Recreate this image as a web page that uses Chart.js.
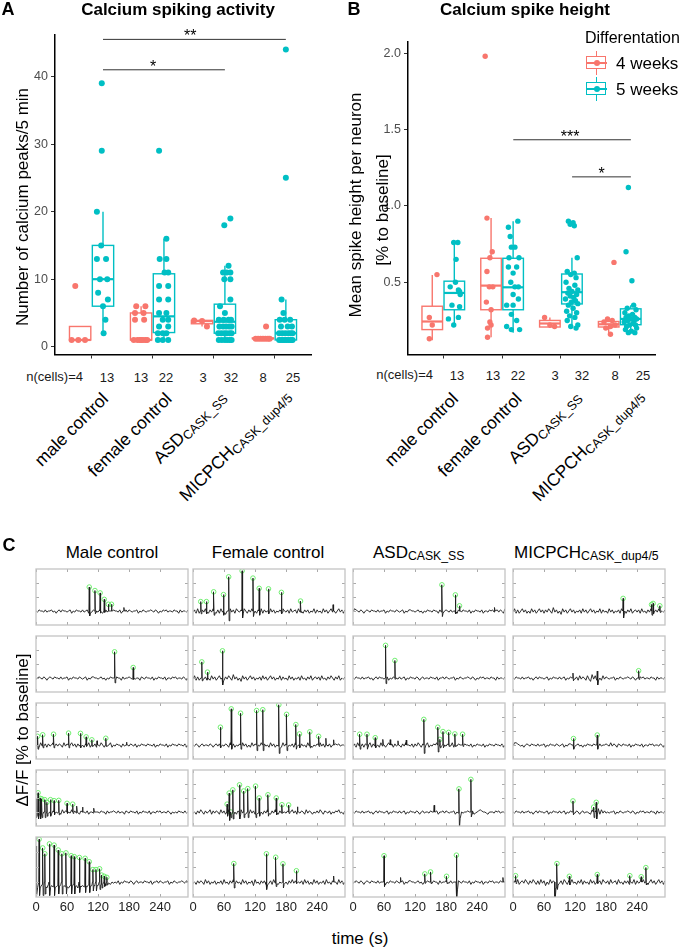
<!DOCTYPE html>
<html lang="en">
<head>
<meta charset="UTF-8">
<title>Calcium spiking</title>
<script src="https://cdn.jsdelivr.net/npm/chart.js"></script>
<style>
body { margin: 0; background: #fff; }
#fig { position: relative; width: 685px; height: 947px; overflow: hidden; font-family: 'Liberation Sans', Arial, sans-serif; color: #000; }
canvas { position: absolute; }
.t { position: absolute; white-space: nowrap; line-height: 1; }
.c { transform: translate(-50%, -50%); }
.rv { transform: translate(-50%, -50%) rotate(-90deg); }
.b { font-weight: bold; }
.n { font-size: 13px; color: #1a1a1a; }
.xl { position: absolute; white-space: nowrap; line-height: 1; font-size: 17.5px; transform-origin: 100% 0; transform: rotate(-45deg); }
.sb { font-size: 0.72em; vertical-align: -0.2em; }
.key { position: absolute; width: 21px; height: 24px; }
.key i { position: absolute; display: block; }
.key .wh { left: 10px; top: 0; width: 1.3px; height: 24px; background: currentColor; }
.key .bx { left: 0; top: 5px; width: 18px; height: 11px; border: 1.3px solid currentColor; background: #fff; }
.key .md { left: 0; top: 11px; width: 21px; height: 1.6px; background: currentColor; }
.key .dt { left: 7.5px; top: 9px; width: 6px; height: 6px; border-radius: 50%; background: currentColor; }
</style>
</head>
<body>
<div id="fig">
  <canvas id="chartA" style="left:0;top:0"></canvas>
  <canvas id="chartB" style="left:340px;top:0"></canvas>

  <!-- panel A text -->
  <div class="t c b" style="left:8px;top:9px;font-size:18px">A</div>
  <div class="t c b" style="left:178px;top:9px;font-size:17px">Calcium spiking activity</div>
  <div class="t rv" style="left:22px;top:207px;font-size:17px">Number of calcium peaks/5 min</div>
  <div class="t n" style="right:602px;top:370px">n(cells)=4</div>
  <div class="t n c" style="left:107px;top:377px">13</div>
  <div class="t n c" style="left:141px;top:377px">13</div>
  <div class="t n c" style="left:166px;top:377px">22</div>
  <div class="t n c" style="left:203px;top:377px">3</div>
  <div class="t n c" style="left:231px;top:377px">32</div>
  <div class="t n c" style="left:263px;top:377px">8</div>
  <div class="t n c" style="left:293px;top:377px">25</div>
  <div class="xl" style="right:586px;top:390px">male control</div>
  <div class="xl" style="right:522px;top:390px">female control</div>
  <div class="xl" style="right:468px;top:388px">ASD<span class="sb">CASK_SS</span></div>
  <div class="xl" style="right:403px;top:387px">MICPCH<span class="sb">CASK_dup4/5</span></div>

  <!-- panel B text -->
  <div class="t c b" style="left:354px;top:9px;font-size:18px">B</div>
  <div class="t c b" style="left:525px;top:9px;font-size:17px">Calcium spike height</div>
  <div class="t rv" style="left:355px;top:205px;font-size:17px">Mean spike height per neuron</div>
  <div class="t rv" style="left:382px;top:210px;font-size:17px">[% to baseline]</div>
  <div class="t" style="left:585px;top:30px;font-size:16px">Differentation</div>
  <div class="key" style="left:586px;top:51px;color:#F8766D"><i class="wh"></i><i class="bx"></i><i class="md"></i><i class="dt"></i></div>
  <div class="t" style="left:616px;top:55px;font-size:17px">4 weeks</div>
  <div class="key" style="left:586px;top:77px;color:#00BFC4"><i class="wh"></i><i class="bx"></i><i class="md"></i><i class="dt"></i></div>
  <div class="t" style="left:616px;top:81px;font-size:17px">5 weeks</div>
  <div class="t n" style="right:252px;top:368px">n(cells)=4</div>
  <div class="t n c" style="left:457px;top:375px">13</div>
  <div class="t n c" style="left:493px;top:375px">13</div>
  <div class="t n c" style="left:518px;top:375px">22</div>
  <div class="t n c" style="left:555px;top:375px">3</div>
  <div class="t n c" style="left:582px;top:375px">32</div>
  <div class="t n c" style="left:615px;top:375px">8</div>
  <div class="t n c" style="left:643px;top:375px">25</div>
  <div class="xl" style="right:236px;top:390px">male control</div>
  <div class="xl" style="right:172px;top:390px">female control</div>
  <div class="xl" style="right:113px;top:388px">ASD<span class="sb">CASK_SS</span></div>
  <div class="xl" style="right:50px;top:387px">MICPCH<span class="sb">CASK_dup4/5</span></div>

  <!-- panel C text -->
  <div class="t c b" style="left:9px;top:545px;font-size:18px">C</div>
  <div class="t c" style="left:112px;top:552px;font-size:17px">Male control</div>
  <div class="t c" style="left:268px;top:552px;font-size:17px">Female control</div>
  <div class="t" style="left:373px;top:544px;font-size:17px">ASD<span class="sb">CASK_SS</span></div>
  <div class="t" style="left:514px;top:544px;font-size:17px">MICPCH<span class="sb">CASK_dup4/5</span></div>
  <div class="t rv" style="left:22px;top:730px;font-size:17px">ΔF/F [% to baseline]</div>
  <div class="t c" style="left:360px;top:938px;font-size:17px">time (s)</div>
</div>

<script>
// ---- panel A: calcium peaks per 5 min (4 weeks / 5 weeks) ----
const peaks4 = [
  [9, 1, 1, 1],
  [6, 6, 5, 5, 4, 4, 1, 1, 1, 1, 1, 1, 1],
  [3.9, 3.8, 3.0],
  [3, 1.2, 1.2, 1.2, 1.2, 1.2, 1.2, 1.2]
];
const peaksJit4 = [
  [-0.08, -0.14, -0.03, 0.08],
  [-0.08, 0.07, -0.1, 0.04, -0.1, 0.05, -0.12, -0.06, -0.02, 0.03, 0.07, 0.1, 0.0],
  [-0.13, 0.0, 0.08],
  [0.05, -0.12, -0.08, -0.04, 0.0, 0.04, 0.08, 0.11]
];
const peaks5 = [
  [39, 29, 20, 15, 13, 13, 10, 10, 8, 7, 6, 4, 2],
  [29, 16, 13, 13, 11, 11, 9, 9, 7, 7, 5, 5, 4, 4, 3, 3, 2, 2, 2, 1, 1, 1],
  [19, 18, 12, 11, 11, 11, 10, 10, 7, 6, 5, 4, 4, 4, 4, 3, 3, 3, 3, 3, 2, 2, 2, 2, 2, 2, 1, 1, 1, 1, 1, 1],
  [44, 25, 7, 5, 4, 4, 4, 3, 3, 3, 2, 2, 2, 2, 2, 2, 1, 1, 1, 1, 1, 1, 1, 1, 1]
];
const peaksJit5 = [
  [-0.02, -0.02, -0.1, -0.03, 0.05, -0.1, 0.07, -0.05, -0.08, 0.08, 0, 0.04, 0.01],
  [-0.08, 0.04, -0.07, 0.04, 0.07, 0.01, -0.08, 0.07, -0.08, 0.07, -0.08, 0.04, -0.02, 0.07, -0.08, 0.07, -0.02, -0.1, 0.04, -0.1, -0.02, 0.07],
  [0.09, -0.01, 0.06, -0.03, 0.09, 0.03, -0.01, 0.09, 0.09, -0.08, 0, -0.1, -0.02, 0.06, 0.1, -0.09, -0.03, 0.02, 0.07, 0.11, -0.11, -0.06, -0.01, 0.03, 0.08, 0.11, -0.1, -0.05, 0, 0.04, 0.08, 0.11],
  [0, 0, -0.07, -0.04, -0.1, 0.07, -0.02, -0.08, 0.03, 0.1, -0.11, -0.06, -0.01, 0.04, 0.08, 0.11, -0.11, -0.08, -0.05, -0.02, 0.01, 0.04, 0.07, 0.09, 0.11]
];
// [lower whisker, q1, median, q3, upper whisker]
const peaksBox4 = [[1, 1, 1, 3, 3], [1, 1, 1, 5, 6], [3, 3.4, 3.8, 3.9, 3.9], [1.2, 1.2, 1.2, 1.3, 1.3]];
const peaksBox5 = [[2, 6, 10, 15, 20], [1, 2.1, 4.5, 10.8, 16], [1, 2, 3.7, 6.3, 12], [1, 1, 2, 4, 7]];
// [from, to, height, label x, label]
const peaksSig = [[1.1875, 3.1875, 41.0, 2.01, '*'], [1.1875, 4.1875, 45.5, 2.62, '**']];
const peaksTicks = [0, 10, 20, 30, 40];

// ---- panel B: mean spike height ----
const height4 = [
  [0.55, 0.27, 0.22, 0.13],
  [1.98, 0.92, 0.7, 0.66, 0.57, 0.47, 0.47, 0.37, 0.32, 0.24, 0.22, 0.2, 0.14],
  [0.27, 0.22, 0.21],
  [0.63, 0.26, 0.25, 0.24, 0.22, 0.21, 0.2, 0.16]
];
const heightJit4 = [
  [0.08, -0.05, 0, -0.05],
  [-0.1, -0.07, 0.02, -0.02, -0.07, -0.03, 0.03, -0.08, 0, -0.02, 0, -0.06, -0.06],
  [-0.09, 0, 0.08],
  [0.09, -0.02, 0.06, -0.08, 0.11, 0.03, -0.05, 0.03]
];
const height5 = [
  [0.76, 0.76, 0.65, 0.5, 0.47, 0.45, 0.44, 0.42, 0.35, 0.34, 0.27, 0.26, 0.22],
  [0.9, 0.86, 0.8, 0.73, 0.73, 0.66, 0.66, 0.6, 0.6, 0.56, 0.5, 0.47, 0.47, 0.42, 0.39, 0.35, 0.35, 0.29, 0.25, 0.21, 0.19, 0.19],
  [0.9, 0.89, 0.88, 0.87, 0.66, 0.57, 0.56, 0.55, 0.53, 0.5, 0.48, 0.46, 0.45, 0.44, 0.43, 0.42, 0.41, 0.4, 0.39, 0.38, 0.37, 0.36, 0.35, 0.33, 0.31, 0.3, 0.28, 0.27, 0.25, 0.22, 0.21, 0.2],
  [1.12, 0.7, 0.51, 0.35, 0.33, 0.32, 0.3, 0.29, 0.28, 0.27, 0.27, 0.26, 0.26, 0.25, 0.25, 0.24, 0.23, 0.22, 0.22, 0.21, 0.2, 0.19, 0.18, 0.17, 0.17]
];
const heightJit5 = [
  [-0.01, 0.06, 0.03, 0.02, -0.07, 0.07, 0.09, 0.1, -0.04, 0.09, 0.07, -0.1, -0.01],
  [0.08, -0.08, -0.05, -0.03, 0.03, -0.07, 0.1, 0.06, -0.08, 0, -0.04, 0.09, 0.03, 0, 0.09, -0.11, 0, -0.03, 0.06, -0.11, -0.03, 0.11],
  [-0.06, 0.02, -0.03, 0.04, 0.09, -0.08, 0.04, -0.02, 0.07, -0.1, 0.05, -0.05, 0.1, 0, -0.07, 0.08, -0.03, 0.03, -0.11, 0.06, -0.01, 0.1, -0.06, 0.02, -0.09, 0.08, -0.04, 0.05, -0.08, 0.1, -0.02, 0.07],
  [-0.04, -0.08, 0.02, 0.05, -0.06, 0.09, -0.1, 0.03, -0.03, 0.07, -0.08, 0.1, 0, -0.05, 0.06, -0.11, 0.04, -0.02, 0.08, -0.07, 0.1, -0.09, 0.01, -0.04, 0.07]
];
const heightBox4 = [[0.12, 0.19, 0.243, 0.343, 0.548], [0.14, 0.32, 0.478, 0.657, 0.92], [0.2, 0.207, 0.23, 0.25, 0.27], [0.16, 0.207, 0.225, 0.243, 0.26]];
const heightBox5 = [[0.22, 0.32, 0.43, 0.507, 0.76], [0.17, 0.32, 0.467, 0.657, 0.9], [0.2, 0.358, 0.435, 0.554, 0.66], [0.17, 0.222, 0.26, 0.326, 0.35]];
const heightSig = [[2.19, 4.19, 1.433, 3.155, '***'], [3.19, 4.19, 1.19, 3.694, '*']];
const heightTicks = [0.5, 1.0, 1.5, 2.0];

// ---- panel C: example traces, one noise string + spike list per row ----
// spike: [time s, peak dF/F, dip after, marked]
const timeTicks = [0, 60, 120, 180, 240];
const dffTicks = [0, 1, 2];
const maleNoise = [
  '5465546455 6453564655 4563546554 6456354655 4653564554 6554635564 6545563546 5455654653 5465645546 5536455465',
  '4565465356 5465546455 6354655465 4563546655 4564535465 5465536455 6546455365 4655463546 5546355465 6455465354',
  '4637456364 5736465374 6357463647 5364735463 6475364573 5465536455 4654635465 5465546354 6554635465 5465546355',
  '2324353545 4635463746 3547364536 4546355465 5465536455 6546455365 4655463546 5546355465 6455465354 5465546455',
  '3121312031 2131203121 3021312031 2131302131 2031323435 4546354655 4653564554 6554635564 6545563546 5455654653'
];
const maleSpikes = [
  [[103, 1.71, -0.35, 1], [114, 1.46, -0.2, 1], [124, 1.29, -0.15, 1], [132, 0.83, -0.1, 1], [140, 0.48, 0, 1], [146, 0.48, 0, 1], [170, 0.25, 0, 0]],
  [[152, 1.87, -0.35, 1], [188, 0.75, -0.1, 1]],
  [[3, 0.62, -0.3, 1], [13, 0.73, -0.2, 1], [34, 0.77, -0.2, 1], [63, 0.85, -0.2, 1], [86, 0.83, -0.2, 1], [97, 0.58, -0.1, 1], [108, 0.37, -0.1, 1], [118, 0.3, 0, 0], [135, 0.48, -0.1, 1], [175, 0.2, 0, 0]],
  [[1, 1.0, -0.4, 0], [4, 1.37, -0.5, 1], [8, 0.98, -0.5, 1], [11, 0.94, -0.4, 1], [17, 0.88, -0.4, 1], [21, 0.69, -0.3, 1], [28, 0.88, -0.3, 1], [35, 0.81, -0.2, 1], [44, 0.83, -0.2, 1], [60, 0.62, -0.1, 1], [71, 0.56, -0.1, 1], [79, 0.42, 0, 0], [90, 0.35, 0, 0], [112, 0.27, 0, 0]],
  [[1, 2.4, -0.9, 0], [6, 2.85, -0.9, 1], [13, 2.27, -0.9, 1], [17, 1.88, -0.8, 1], [26, 2.54, -0.9, 1], [35, 2.46, -0.9, 1], [43, 2.13, -0.8, 1], [50, 1.88, -0.8, 1], [58, 1.94, -0.8, 1], [68, 1.75, -0.8, 1], [74, 1.69, -0.8, 1], [84, 1.63, -0.7, 1], [95, 1.58, -0.7, 1], [103, 1.35, -0.7, 1], [110, 0.83, -0.6, 1], [116, 0.83, -0.6, 1], [123, 0.88, -0.5, 1], [127, 0.46, -0.4, 1], [132, 0.38, -0.3, 1], [137, 0.31, -0.2, 1]]
];
const femaleNoise = [
  '4637356475 3647536374 6253746375 4637536474 5364736453 7463546375 4637456374 5364635473 6453746357 4635746364',
  '4736357463 5374635746 3647538463 5274635746 3546374635 7463547364 5374635463 7453647356 4637453647 5364735463',
  '5465356455 4653564655 4653746354 6374635374 6354736453 7463546374 6354637453 6453746354 6374635463 5465645546',
  '4536475364 5736465374 6357364536 4746353746 3647536475 3647536475 4635746354 6537465354 6475365463 5465745364',
  '4536465374 6354635463 7453647364 5374635462 7453646354 6374635463 5364746354 6374635374 6354637453 6453746354'
];
const femaleSpikes = [
  [[15, 0.67, -0.2, 1], [26, 0.67, -0.2, 1], [40, 1.37, -0.3, 1], [59, 1.17, -0.3, 1], [69, 2.44, -0.7, 1], [95, 2.87, -0.5, 1], [116, 2.35, -0.4, 1], [128, 1.62, -0.3, 1], [146, 1.58, -0.2, 1], [171, 1.33, -0.2, 1], [208, 0.71, -0.1, 1], [271, 0.45, 0, 0]],
  [[17, 1.15, -0.2, 1], [28, 0.42, -0.1, 1], [57, 1.94, -0.5, 1]],
  [[53, 1.27, -0.2, 1], [74, 2.58, -0.3, 1], [92, 2.27, -0.3, 1], [123, 2.46, -0.4, 1], [135, 2.52, -0.4, 1], [166, 2.87, -0.6, 1], [181, 2.19, -0.4, 1], [199, 1.46, -0.3, 1], [206, 0.79, -0.2, 1], [226, 0.94, -0.2, 1], [243, 0.62, -0.1, 1], [257, 0.48, 0, 0], [272, 0.37, 0, 0]],
  [[66, 0.56, -0.3, 1], [70, 1.35, -0.6, 1], [73, 0, -0.4, 1], [77, 1.58, -0.5, 1], [90, 1.94, -0.5, 1], [98, 1.5, -0.4, 1], [106, 1.67, -0.4, 1], [121, 1.85, -0.4, 1], [128, 1.0, -0.3, 1], [145, 1.23, -0.3, 1], [161, 1.0, -0.2, 1], [172, 0.52, -0.1, 1], [185, 0.5, -0.1, 1], [202, 0.37, 0, 0]],
  [[79, 1.23, -0.4, 1], [142, 1.88, -0.5, 1], [160, 1.65, -0.3, 1], [174, 1.21, -0.4, 1], [200, 0.75, -0.1, 1], [272, 0.4, 0, 0]]
];
const asdNoise = [
  '4765465356 5465546455 6354655465 4563546655 4564535465 5465536455 6546455365 4655463546 5546355465 6456465374',
  '5465546455 6453564655 4563546554 6456354655 4653564554 6554635564 6545563546 5455654653 5465645546 5536455465',
  '4637456364 5736465374 6357463647 5364735463 6475364573 5465736455 4654735465 5465546354 6554635465 5465546355',
  '5465546455 6453564655 4563546554 6456354655 4653564554 6554635564 6545563546 5455654634 5676554355 5465645546',
  '4565465356 5465546455 6354655465 4563546655 4564535465 5465536455 6546455365 4655463546 5546355465 6455465354'
];
const asdSpikes = [
  [[172, 1.87, -0.4, 1], [198, 1.15, -0.2, 1], [206, 0.37, 0, 1], [274, 0.25, 0, 0]],
  [[63, 2.33, -0.4, 1], [81, 1.25, -0.1, 1]],
  [[13, 0.77, -0.3, 1], [27, 0.77, -0.3, 1], [43, 0.52, -0.2, 1], [58, 0.4, 0, 0], [72, 0.38, 0, 0], [87, 0.3, 0, 0], [103, 0.35, 0, 0], [137, 1.83, -0.6, 1], [164, 1.27, -0.5, 1], [168, 0.4, -0.2, 1], [174, 0.96, -0.2, 1], [185, 0.9, -0.1, 1], [197, 0.79, -0.1, 1], [212, 0.77, -0.1, 1]],
  [[157, 0.48, 0, 0], [205, 1.65, -1.2, 1], [228, 2.33, -0.35, 1]],
  [[60, 1.75, -0.3, 1], [92, 0.3, 0, 0], [139, 0.54, -0.1, 1], [150, 0.67, -0.1, 1], [181, 0.38, -0.1, 1], [200, 1.79, -1.2, 1], [290, 0.3, 0, 0]]
];
const micNoise = [
  '4736357463 5374635746 3647538463 5274635746 3546374635 7463547364 5374635463 7453647356 4637453647 5364735463',
  '5465546455 6453564655 4563546554 6456354655 4637465374 2847365374 6545563546 5455654653 5465645546 5536455465',
  '4776545356 5465546455 6354655465 4563546655 4564535465 5465536455 6547465365 4655463546 5546355465 6455465354',
  '5465546455 6453564655 4563546554 6456354655 4653564554 3746283746 4545563546 5455654653 5465645546 5536455465',
  '4637356475 3647536374 6253746375 4637536474 5364736453 7463546375 4637456374 5364635473 6453746357 4635746364'
];
const micSpikes = [
  [[213, 0.9, -0.5, 1], [268, 0.46, -0.3, 1], [271, 0.54, -0.2, 1], [284, 0.37, -0.1, 1]],
  [[116, 0.35, -0.2, 0], [163, 0.5, -0.5, 0], [243, 0.52, -0.1, 1]],
  [[117, 0.46, -0.3, 1], [163, 0.71, -0.3, 1]],
  [[116, 0.79, -0.2, 1], [156, 0.35, -0.4, 1], [161, 0.69, -0.5, 1]],
  [[5, 0.42, -0.1, 1], [81, -1.1, -1.0, 0], [85, 1.23, -0.5, 1], [109, 0.38, -0.2, 1], [163, 0.5, -0.1, 1], [226, 0.42, 0, 1], [248, 0.35, 0, 1], [257, 0.96, -0.2, 1]]
];

// ------------------------------------------------------------------
Chart.defaults.font.family = "'Liberation Sans', Arial, sans-serif";
Chart.defaults.animation = false;
Chart.defaults.responsive = false;
Chart.defaults.events = [];
Chart.defaults.plugins.legend.display = false;
Chart.defaults.plugins.tooltip.enabled = false;

const col4 = '#F8766D';
const col5 = '#00BFC4';
const dodge = 0.1875;

function makeBoxPlugin(box4, box5, sig) {
  return {
    id: 'boxes',
    beforeDatasetsDraw(chart) {
      const { ctx, scales: { x, y } } = chart;
      [[box4, -dodge, col4], [box5, dodge, col5]].forEach(([boxes, off, col]) => {
        boxes.forEach((b, g) => {
          const cx = x.getPixelForValue(g + 1 + off);
          const hw = x.getPixelForValue(g + 1 + off + 0.175) - cx;
          const [lo, q1, med, q3, hi] = b.map(v => y.getPixelForValue(v));
          ctx.save();
          ctx.strokeStyle = col;
          ctx.lineWidth = 1.4;
          ctx.beginPath();
          ctx.moveTo(cx, lo); ctx.lineTo(cx, q1);
          ctx.moveTo(cx, q3); ctx.lineTo(cx, hi);
          ctx.stroke();
          ctx.fillStyle = '#fff';
          ctx.fillRect(cx - hw, q3, 2 * hw, q1 - q3);
          ctx.strokeRect(cx - hw, q3, 2 * hw, q1 - q3);
          ctx.lineWidth = 2.2;
          ctx.beginPath();
          ctx.moveTo(cx - hw, med); ctx.lineTo(cx + hw, med);
          ctx.stroke();
          ctx.restore();
        });
      });
    },
    afterDatasetsDraw(chart) {
      const { ctx, scales: { x, y } } = chart;
      ctx.save();
      sig.forEach(([a, b, v, lx, label]) => {
        const yy = y.getPixelForValue(v);
        ctx.strokeStyle = '#333';
        ctx.lineWidth = 1;
        ctx.beginPath();
        ctx.moveTo(x.getPixelForValue(a), yy);
        ctx.lineTo(x.getPixelForValue(b), yy);
        ctx.stroke();
        ctx.fillStyle = '#000';
        ctx.font = "16px 'Liberation Sans', Arial, sans-serif";
        ctx.textAlign = 'center';
        ctx.fillText(label, x.getPixelForValue(lx), yy + 2);
      });
      ctx.restore();
    }
  };
}

function jitterPoints(vals, jit, off) {
  return vals.flatMap((arr, g) => arr.map((v, i) => ({ x: g + 1 + off + jit[g][i], y: v })));
}

function boxChart(id, w, h, pad, yWidth, v4, j4, v5, j5, b4, b5, sig, yMin, yMax, yTicks, fmt, ptR) {
  const cv = document.getElementById(id);
  cv.width = w; cv.height = h;
  const axisGrid = { display: true, drawOnChartArea: false, drawTicks: true, tickLength: 4, tickColor: '#333', tickWidth: 1 };
  const axisBorder = { display: true, color: '#000', width: 1.5 };
  new Chart(cv, {
    type: 'scatter',
    data: {
      datasets: [
        { data: jitterPoints(v4, j4, -dodge), backgroundColor: col4, borderWidth: 0, pointRadius: ptR },
        { data: jitterPoints(v5, j5, dodge), backgroundColor: col5, borderWidth: 0, pointRadius: ptR }
      ]
    },
    options: {
      layout: { padding: pad },
      scales: {
        x: {
          type: 'linear', min: 0.4, max: 4.6,
          afterBuildTicks: s => { s.ticks = [1, 2, 3, 4].map(v => ({ value: v })); },
          ticks: { display: false },
          grid: axisGrid, border: axisBorder,
          afterFit: s => { s.height = 10; }
        },
        y: {
          min: yMin, max: yMax,
          afterBuildTicks: s => { s.ticks = yTicks.map(v => ({ value: v })); },
          ticks: { color: '#4d4d4d', font: { size: 12.5 }, padding: 3, callback: fmt },
          grid: axisGrid, border: axisBorder,
          afterFit: s => { s.width = yWidth; }
        }
      }
    },
    plugins: [makeBoxPlugin(b4, b5, sig)]
  });
}

boxChart('chartA', 340, 365, { left: 0, top: 35, right: 29, bottom: 0 }, 55,
  peaks4, peaksJit4, peaks5, peaksJit5, peaksBox4, peaksBox5, peaksSig,
  -1.15, 46.15, peaksTicks, v => String(v), 3);

boxChart('chartB', 345, 365, { left: 0, top: 42, right: 30, bottom: 0 }, 68,
  height4, heightJit4, height5, heightJit5, heightBox4, heightBox5, heightSig,
  0.027, 2.073, heightTicks, v => v.toFixed(1), 2.7);

// ---- panel C traces ----
const noiseStep = 3, noiseScale = 0.08, timeMax = 294;

function traceData(noise, spikes) {
  const s = noise.replace(/\s/g, '');
  const pts = [];
  for (let i = 0; i < s.length && i * noiseStep <= timeMax; i++) {
    const t = i * noiseStep;
    if (spikes.some(sp => t > sp[0] - 0.8 && t < sp[0] + 2.3)) continue;
    pts.push({ x: t, y: (Number(s[i]) - 5) * noiseScale });
  }
  spikes.forEach(([t, h, dip]) => {
    pts.push({ x: t - 0.7, y: 0 }, { x: t, y: h }, { x: t + 0.9, y: dip }, { x: t + 2.2, y: dip * 0.4 });
  });
  return pts.sort((a, b) => a.x - b.x);
}

const framePlugin = {
  id: 'frame',
  afterDraw(chart) {
    const { ctx, chartArea: a, scales: { x, y } } = chart;
    ctx.save();
    ctx.strokeStyle = '#aaa';
    ctx.lineWidth = 1;
    ctx.beginPath();
    timeTicks.forEach(t => {
      const px = Math.round(x.getPixelForValue(t)) + 0.5;
      ctx.moveTo(px, a.top); ctx.lineTo(px, a.top + 3);
      ctx.moveTo(px, a.bottom); ctx.lineTo(px, a.bottom - 3);
    });
    dffTicks.forEach(v => {
      const py = Math.round(y.getPixelForValue(v)) + 0.5;
      ctx.moveTo(a.left, py); ctx.lineTo(a.left + 3, py);
      ctx.moveTo(a.right, py); ctx.lineTo(a.right - 3, py);
    });
    ctx.stroke();
    ctx.strokeStyle = '#c4c4c4';
    ctx.lineWidth = 1.3;
    ctx.strokeRect(a.left, a.top, a.right - a.left, a.bottom - a.top);
    ctx.restore();
  }
};

const traceNoise = [maleNoise, femaleNoise, asdNoise, micNoise];
const traceSpikes = [maleSpikes, femaleSpikes, asdSpikes, micSpikes];
const colLeft = [36, 193, 353, 513];
const rowTop = [565, 632, 699, 766, 833];
const fig = document.getElementById('fig');

traceNoise.forEach((noiseRows, c) => {
  noiseRows.forEach((noise, r) => {
    const bottom = r === rowTop.length - 1;
    const spikes = traceSpikes[c][r];
    const cv = document.createElement('canvas');
    cv.width = 172;
    cv.height = bottom ? 84 : 66;
    cv.style.left = (colLeft[c] - 10) + 'px';
    cv.style.top = (rowTop[r] - 1) + 'px';
    fig.appendChild(cv);
    new Chart(cv, {
      type: 'scatter',
      data: {
        datasets: [
          { data: traceData(noise, spikes), showLine: true, borderColor: '#1b1b1b', borderWidth: 0.9, pointRadius: 0 },
          {
            data: spikes.filter(sp => sp[3]).map(sp => ({ x: sp[0], y: sp[1] })),
            showLine: false, pointRadius: 2.3, pointBorderWidth: 1,
            pointBorderColor: '#6fee6f', pointBackgroundColor: 'rgba(0,0,0,0)'
          }
        ]
      },
      options: {
        layout: { padding: { left: 10, right: 10, top: 1, bottom: 1 } },
        scales: {
          x: {
            type: 'linear', min: 0, max: timeMax, display: bottom,
            afterBuildTicks: s => { s.ticks = timeTicks.map(v => ({ value: v })); },
            ticks: { color: '#222', font: { size: 13 }, padding: 3, maxRotation: 0, autoSkip: false },
            grid: { display: false, drawTicks: false },
            border: { display: false },
            afterFit: s => { s.height = bottom ? 18 : 0; }
          },
          y: { min: -1, max: 3, display: false, afterFit: s => { s.width = 0; } }
        }
      },
      plugins: [framePlugin]
    });
  });
});
</script>
</body>
</html>
